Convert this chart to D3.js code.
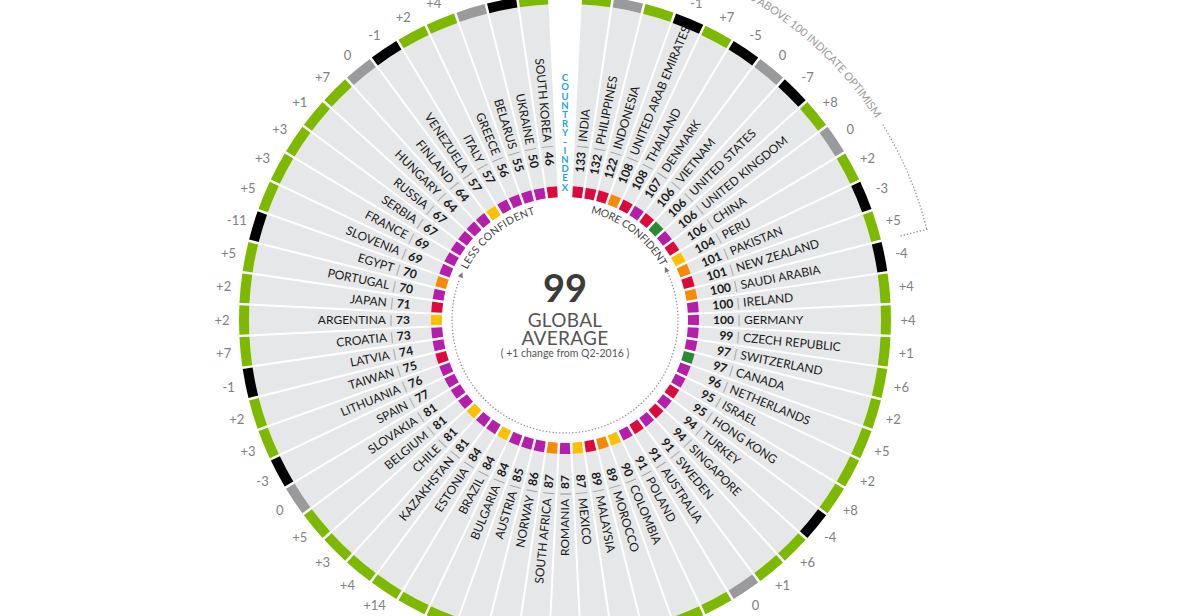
<!DOCTYPE html>
<html><head><meta charset="utf-8">
<script src="https://cdn.jsdelivr.net/npm/d3@7"></script>
<style>
html,body{margin:0;padding:0;background:#fff;}
svg{display:block;font-family:Lato,"Open Sans",sans-serif;}
</style></head><body>
<svg id="chart" width="1200" height="616"></svg>
<script>
// ---- data (clockwise from the top, most to least confident) ----
const countries = ["INDIA","PHILIPPINES","INDONESIA","UNITED ARAB EMIRATES","THAILAND","DENMARK","VIETNAM","UNITED STATES","UNITED KINGDOM","CHINA","PERU","PAKISTAN","NEW ZEALAND","SAUDI ARABIA","IRELAND","GERMANY","CZECH REPUBLIC","SWITZERLAND","CANADA","NETHERLANDS","ISRAEL","HONG KONG","TURKEY","SINGAPORE","SWEDEN","AUSTRALIA","POLAND","COLOMBIA","MOROCCO","MALAYSIA","MEXICO","ROMANIA","SOUTH AFRICA","NORWAY","AUSTRIA","BULGARIA","BRAZIL","ESTONIA","KAZAKHSTAN","CHILE","BELGIUM","SLOVAKIA","SPAIN","LITHUANIA","TAIWAN","LATVIA","CROATIA","ARGENTINA","JAPAN","PORTUGAL","EGYPT","SLOVENIA","FRANCE","SERBIA","RUSSIA","HUNGARY","FINLAND","VENEZUELA","ITALY","GREECE","BELARUS","UKRAINE","SOUTH KOREA"];
const indexValues = [133,132,122,108,108,107,106,106,106,106,104,101,101,100,100,100,99,97,97,96,95,95,94,94,91,91,91,90,89,89,87,87,87,86,85,84,84,84,81,81,81,81,77,76,75,74,73,73,71,70,70,69,69,67,67,64,64,57,57,56,55,50,46];
const changes = [2,0,6,-1,7,-5,0,-7,8,0,2,-3,5,-4,4,4,1,6,2,5,2,8,-4,6,1,0,3,4,2,4,-1,5,6,-1,3,2,6,14,4,3,5,0,-3,3,2,-1,7,2,2,5,-11,5,3,3,1,7,0,-1,2,4,0,-2,1];
const regions = ["AP","AP","AP","MEA","AP","EU","AP","NA","EU","AP","LA","MEA","AP","MEA","EU","EU","EU","EU","NA","EU","EU","AP","EU","AP","EU","AP","EU","LA","MEA","AP","LA","EU","MEA","EU","EU","EU","LA","EU","EU","LA","EU","EU","EU","EU","AP","EU","EU","LA","AP","EU","MEA","EU","EU","EU","EU","EU","EU","LA","EU","EU","EU","EU","AP"];
const regionCodes = ["AP","EU","LA","MEA","NA"];
const regionColors = ["#dc0a3c","#b41eaa","#fbc000","#f58a07","#2a8a34"];
const headerTop = "COUNTRY";
const headerBottom = "INDEX";
const globalAverage = "99";
const centerLines = ["GLOBAL","AVERAGE"];
const centerNote = "( +1 change from Q2-2016 )";
const optimismNote = "SCORES ABOVE 100 INDICATE OPTIMISM";
const optimismThreshold = 100;

// ---- layout ----
const svg = d3.select("#chart");
const cx = 565, cy = 320;
const g = svg.append("g").attr("transform", `translate(${cx},${cy})`);
const defs = svg.append("defs");
const slots = ["__header", ...countries];
const TAU = Math.PI * 2;
const angle = d3.scaleBand().domain(slots).range([-Math.PI / 64, TAU - Math.PI / 64]).padding(0);
const bw = angle.bandwidth();
const regionColor = d3.scaleOrdinal().domain(regionCodes).range(regionColors);
const changeColor = v => v > 0 ? "#7cb900" : (v < 0 ? "#000000" : "#9a9a9c");
const deg = r => r * 180 / Math.PI;
const rad = d => d * Math.PI / 180;

const data = countries.map((c, i) => ({name: c, value: indexValues[i], change: changes[i], region: regions[i]}));
data.forEach(d => { d.a0 = angle(d.name); d.a1 = d.a0 + bw; d.mid = d.a0 + bw / 2; });

// gray wedges
const wedgeArc = d3.arc().innerRadius(134).outerRadius(316).padAngle(2 / 300).padRadius(300);
g.append("g").selectAll("path").data(data).join("path")
  .attr("d", d => wedgeArc({startAngle: d.a0, endAngle: d.a1}))
  .attr("fill", "#e6e7e8");

// outer change ring
const ringArc = d3.arc().innerRadius(316).outerRadius(326).padAngle(2.5 / 321).padRadius(321);
g.append("g").selectAll("path").data(data).join("path")
  .attr("d", d => ringArc({startAngle: d.a0, endAngle: d.a1}))
  .attr("fill", d => changeColor(d.change));

// inner region squares
const sqArc = d3.arc().innerRadius(123).outerRadius(134).padAngle(2.5 / 128).padRadius(128);
g.append("g").selectAll("path").data(data).join("path")
  .attr("d", d => sqArc({startAngle: d.a0, endAngle: d.a1}))
  .attr("fill", d => regionColor(d.region));

// change labels
g.append("g").selectAll("text").data(data).join("text")
  .attr("x", d => 343 * Math.sin(d.mid))
  .attr("y", d => -343 * Math.cos(d.mid))
  .attr("dy", "0.36em")
  .attr("text-anchor", "middle")
  .attr("font-size", 13)
  .attr("fill", "#808080")
  .text(d => d.change > 0 ? "+" + d.change : String(d.change));

// country labels
const lab = g.append("g").selectAll("g").data(data).join("g")
  .attr("transform", d => deg(d.mid) < 180 ? `rotate(${deg(d.mid) - 90})` : `rotate(${deg(d.mid) + 90})`);
lab.each(function(d) {
  const right = deg(d.mid) < 180;
  const s = right ? 1 : -1;
  const el = d3.select(this);
  el.append("text").attr("x", s * 169).attr("dy", "0.35em")
    .attr("text-anchor", right ? "end" : "start")
    .attr("font-size", 12).attr("font-weight", 700).attr("fill", "#1a1a1a")
    .text(d.value);
  el.append("text").attr("x", s * 174).attr("dy", "0.35em")
    .attr("text-anchor", "middle").attr("font-size", 12).attr("fill", "#a0a0a0")
    .text("|");
  el.append("text").attr("x", s * 179).attr("dy", "0.35em")
    .attr("text-anchor", right ? "start" : "end")
    .attr("font-size", 12).attr("fill", "#1a1a1a")
    .text(d.name);
});

// header stacked letters
const hdr = g.append("g").attr("fill", "#22a3dd").attr("font-size", 9.5).attr("font-weight", 700).attr("text-anchor", "middle");
const hChars = [...headerTop.split(""), "–", ...headerBottom.split("")];
hChars.forEach((ch, i) => {
  hdr.append("text").attr("x", 0).attr("y", -242 + i * 9.1).attr("dy", "0.35em").text(ch);
});

// center text
g.append("text").attr("x", 0).attr("y", -18).attr("text-anchor", "middle")
  .attr("font-size", 38).attr("font-weight", 700).attr("fill", "#3b3b3b").text(globalAverage);
centerLines.forEach((t, i) => {
  g.append("text").attr("x", 0).attr("y", 7 + i * 18).attr("text-anchor", "middle")
    .attr("font-size", 19).attr("fill", "#555").attr("letter-spacing", 0.3).text(t);
});
g.append("text").attr("x", 0).attr("y", 37).attr("text-anchor", "middle")
  .attr("font-size", 10.5).attr("fill", "#555").text(centerNote);

// helpers
function arcPath(r, a0, a1) {
  const p = d3.path();
  p.moveTo(r * Math.sin(a0), -r * Math.cos(a0));
  p.arc(0, 0, r, a0 - Math.PI / 2, a1 - Math.PI / 2, a1 < a0);
  return p.toString();
}
const dotted = sel => sel.attr("fill", "none").attr("stroke", "#8f8f8f").attr("stroke-width", 1.4)
  .attr("stroke-linecap", "round").attr("stroke-dasharray", "0.1,3.2");

// inner dotted circle with arrows and confidence texts
const rIn = 113;
g.append("path").attr("d", arcPath(rIn, rad(65.5), rad(291.5))).call(dotted);
function arrow(aDeg, dir) {
  const pts = dir > 0 ? [[4, 0], [-1.5, -2.6], [-1.5, 2.6]] : [[-4, 0], [1.5, -2.6], [1.5, 2.6]];
  g.append("path").attr("transform", `rotate(${aDeg}) translate(0,${-rIn})`)
    .attr("d", "M" + pts.map(p => p.join(",")).join("L") + "Z").attr("fill", "#777");
}
arrow(64, -1);
arrow(293, 1);
const rTxt = 110;
defs.append("path").attr("id", "innerCircle")
  .attr("d", `M0,${-rTxt}A${rTxt},${rTxt} 0 1 1 0,${rTxt}A${rTxt},${rTxt} 0 1 1 0,${-rTxt}`);
function arcText(id, str, r, aStart, aEnd, size, color) {
  const t = g.append("text").attr("font-size", size).attr("fill", color);
  t.append("textPath").attr("href", "#" + id).attr("startOffset", r * rad(aStart)).text(str);
  const L = t.node().getComputedTextLength();
  const target = r * rad(aEnd - aStart);
  t.attr("letter-spacing", (target - L) / (str.length - 1));
  return t;
}
arcText("innerCircle", "LESS CONFIDENT", rTxt, 297, 344, 10.5, "#444");
arcText("innerCircle", "MORE CONFIDENT", rTxt, 13.5, 61, 10.5, "#444");

// optimism bracket
const rOpt = 370, rOptLine = 373;
defs.append("path").attr("id", "optArc").attr("d", arcPath(rOpt, 0, Math.PI / 2));
arcText("optArc", optimismNote, rOpt, 24.5, 57, 11, "#9a9a9a");
const lastAbove = data.filter(d => d.value > optimismThreshold).pop();
const aEnd = lastAbove.a1;
const aStart = data[0].a0;
g.append("path").attr("d", arcPath(rOptLine, rad(58.5), aEnd)).call(dotted);
g.append("path").attr("d", arcPath(rOptLine, aStart, rad(23.5))).call(dotted);
[aStart, aEnd].forEach(a => {
  g.append("path").attr("d", `M${rOptLine * Math.sin(a)},${-rOptLine * Math.cos(a)}L${346 * Math.sin(a)},${-346 * Math.cos(a)}`).call(dotted);
});
</script>
</body></html>
